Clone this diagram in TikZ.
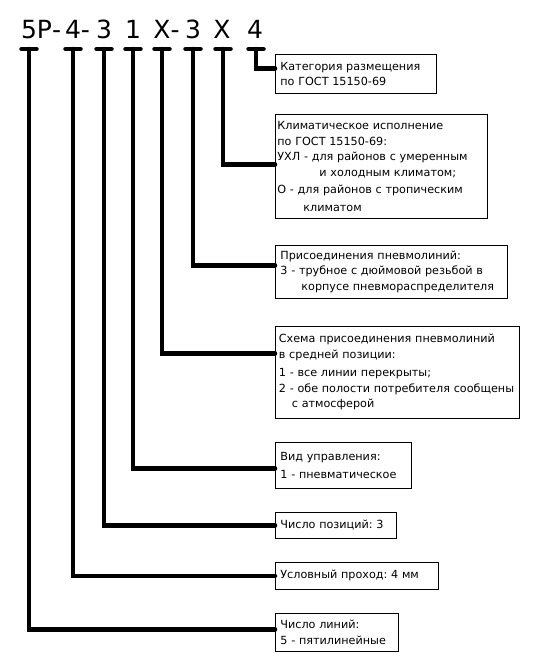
\documentclass[tikz,border=0pt]{standalone}
\usepackage{fontspec}
\setmainfont{DejaVu Sans}
\frenchspacing

\tikzset{
  code/.style={font=\fontsize{25}{30}\selectfont, anchor=base, inner sep=0pt},
  info/.style={draw, line width=0.8pt, anchor=north west, align=left,
    inner xsep=5pt, inner ysep=0pt, font=\fontsize{11.2}{15.5}\selectfont},
  lead/.style={line width=4.5pt, line cap=round},
}

\begin{document}
\begin{tikzpicture}[x=1pt,y=-1pt]
\useasboundingbox (0,0) rectangle (545,664);

% Designation
\node[code] (d1) at (29,38) {5\rlap{Р-}};
\node[code] (d2) at (73,38) {4\rlap{-}};
\node[code] (d3) at (104,38) {3};
\node[code] (d4) at (133,38) {1};
\node[code] (d5) at (162,38) {Х\rlap{-}};
\node[code] (d6) at (193,38) {3};
\node[code] (d7) at (222,38) {Х};
\node[code] (d8) at (255,38) {4};

% Bars under the designation
\foreach \i/\x in {1/29,2/73,3/104,4/133,5/162,6/193,7/223,8/256} {
  \coordinate (t\i) at (\x,49);
  \draw[lead] ([xshift=-7.5pt]t\i) -- ([xshift=7.5pt]t\i);
}

% Explanation boxes
\node[info, text width=151pt, minimum height=39pt] (cat) at (275,54)
  {Категория размещения\\по ГОСТ 15150-69};
\node[info, inner xsep=2pt, text width=208pt, minimum height=104pt] (clim) at (275,114)
  {Климатическое исполнение\\по ГОСТ 15150-69:\\УХЛ - для районов с умеренным\\
   \hspace*{42pt}и холодным климатом;\\[2pt]О - для районов с тропическим\\[2pt]
   \hspace*{26pt}климатом};
\node[info, text width=222pt, minimum height=53pt] (conn) at (275,245)
  {Присоединения пневмолиний:\\3 - трубное с дюймовой резьбой в\\
   \hspace*{21pt}корпусе пневмораспределителя};
\node[info, inner xsep=3.5pt, text width=237pt, minimum height=92pt] (scheme) at (275,326)
  {Схема присоединения пневмолиний\\в средней позиции:\\[3pt]
   1 - все линии перекрыты;\\2 - обе полости потребителя сообщены\\
   \hspace*{13pt}с атмосферой};
\node[info, text width=126pt, minimum height=46pt] (ctrl) at (275,442)
  {Вид управления:\\[3pt]1 - пневматическое};
\node[info, text width=111pt, minimum height=26pt] (pos) at (275,512)
  {Число позиций: 3};
\node[info, text width=153pt, minimum height=27pt] (bore) at (275,562)
  {Условный проход: 4 мм};
\node[info, text width=113pt, minimum height=38pt] (lines) at (275,613)
  {Число линий:\\5 - пятилинейные};

% Leads
\draw[lead] (t8) |- ([yshift=5.5pt]cat.west);
\draw[lead] (t7) |- ([yshift=2pt]clim.west);
\draw[lead] (t6) |- ([yshift=6.5pt]conn.west);
\draw[lead] (t5) |- ([yshift=19pt]scheme.west);
\draw[lead] (t4) |- ([yshift=-3pt]ctrl.west);
\draw[lead] (t3) |- (pos.west);
\draw[lead] (t2) |- (bore.west);
\draw[lead] (t1) |- ([yshift=3pt]lines.west);
\end{tikzpicture}
\end{document}
